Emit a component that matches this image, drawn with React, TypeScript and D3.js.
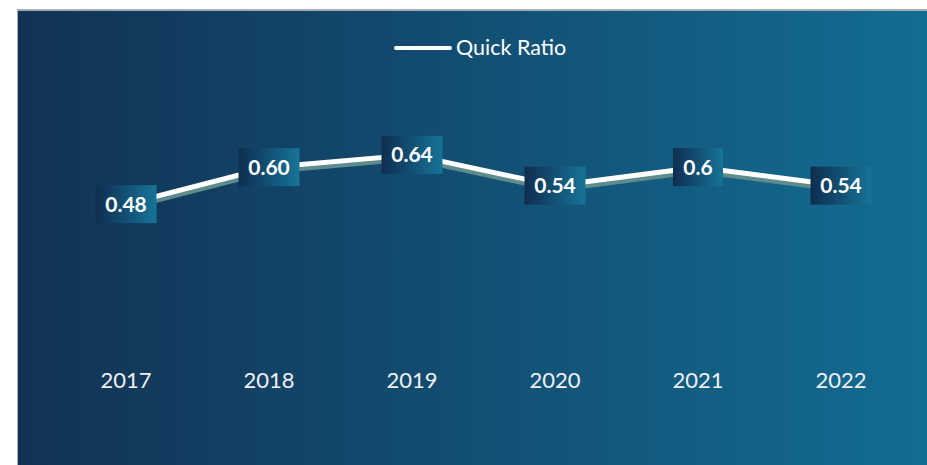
import React from "react";
import * as d3 from "d3";

const categories = ["2017", "2018", "2019", "2020", "2021", "2022"];
const values = [0.48, 0.6, 0.64, 0.54, 0.6, 0.54];
const labels = ["0.48", "0.60", "0.64", "0.54", "0.6", "0.54"];
const seriesName = "Quick Ratio";

const W = 927;
const H = 465;

export default function App() {
  const x = d3.scalePoint<string>().domain(categories).range([126, 841]);
  const y = d3.scaleLinear().domain([0, 0.7]).range([352, 136.4]);
  const line = d3
    .line<number>()
    .x((_, i) => x(categories[i]) as number)
    .y((d) => y(d));
  const path = line(values) || "";
  const font = "Lato, 'Open Sans', sans-serif";
  const labelW = (s: string) => s.length * 11 + 17;

  return (
    <svg
      width={W}
      height={H}
      style={{ position: "absolute", left: 0, top: 0 }}
      fontFamily={font}
    >
      <defs>
        <linearGradient id="bg" x1="0" x2="1" y1="0" y2="0">
          <stop offset="0%" stopColor="#113254" />
          <stop offset="100%" stopColor="#136c92" />
        </linearGradient>
        <linearGradient id="lb" x1="0" x2="1" y1="0" y2="0">
          <stop offset="0%" stopColor="#0f2d50" />
          <stop offset="100%" stopColor="#167498" />
        </linearGradient>
      </defs>
      <rect x={0} y={0} width={W} height={H} fill="#ffffff" />
      <rect x={17} y={9} width={W - 17} height={H - 9} fill="#a9adb3" />
      <rect x={18} y={11} width={W - 18} height={H - 11} fill="url(#bg)" />

      {/* legend */}
      <line x1={396} x2={450} y1={48} y2={48} stroke="#fff" strokeWidth={4} strokeLinecap="round" />
      <text x={456} y={55} fill="#fff" fontSize={21.5}>
        {seriesName}
      </text>

      {/* line shadow */}
      <path d={path} transform="translate(0,4)" fill="none" stroke="#5e8c8c" strokeWidth={5} strokeLinejoin="round" />
      <path d={path} fill="none" stroke="#ffffff" strokeWidth={5} strokeLinejoin="round" />

      {/* data labels */}
      {values.map((v, i) => {
        const cx = x(categories[i]) as number;
        const cy = y(v);
        const w = labelW(labels[i]);
        return (
          <g key={i}>
            <rect x={cx - w / 2} y={cy - 19} width={w} height={38} fill="url(#lb)" />
            <text x={cx} y={cy + 7.5} textAnchor="middle" fill="#fff" fontSize={21} fontWeight="bold">
              {labels[i]}
            </text>
          </g>
        );
      })}

      {/* axis labels */}
      {categories.map((c) => (
        <text key={c} x={x(c) as number} y={388} textAnchor="middle" fill="#f0f0f0" fontSize={22}>
          {c}
        </text>
      ))}
    </svg>
  );
}
